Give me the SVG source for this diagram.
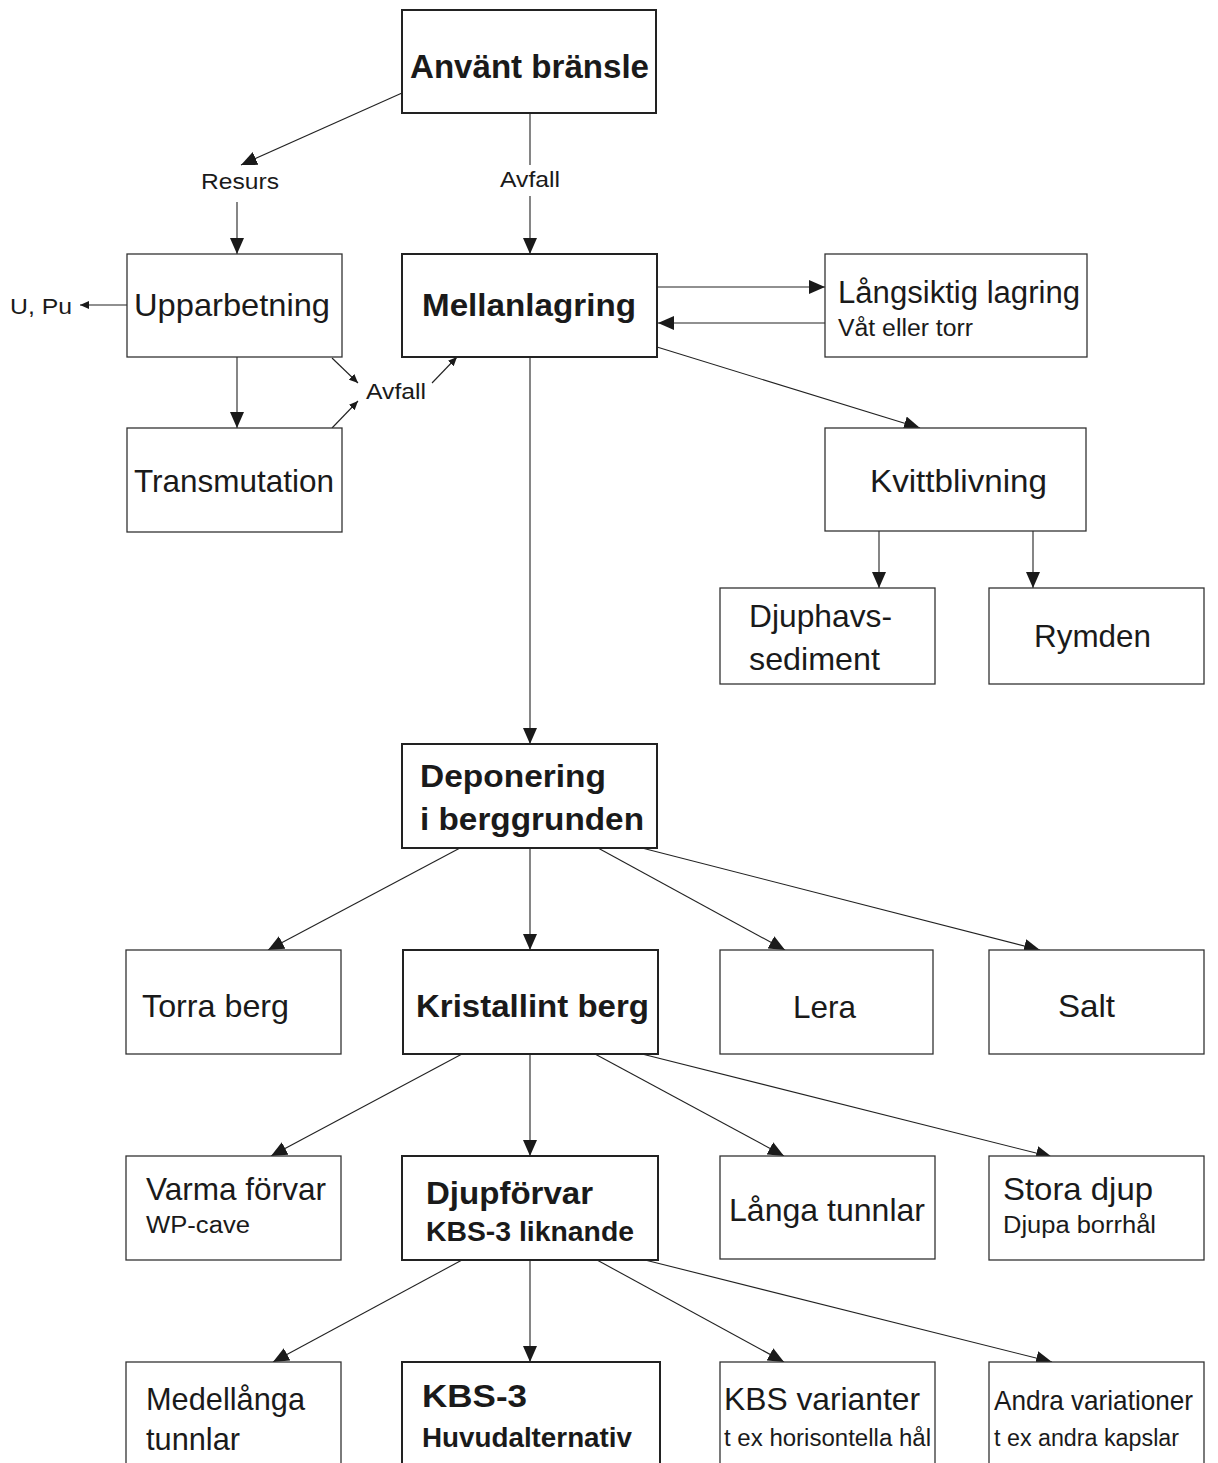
<svg xmlns="http://www.w3.org/2000/svg" width="1218" height="1463" viewBox="0 0 1218 1463">
<style>
.box{fill:#fff;stroke:#333;stroke-width:1.3}
.bbox{fill:#fff;stroke:#222;stroke-width:2}
.t{font-family:"Liberation Sans",Arial,sans-serif;fill:#1a1a1a;font-size:32px}
.b{font-weight:bold}
.s{font-size:23px}
.l{font-size:22px}
.c{stroke:#222;stroke-width:1.1;fill:none}
</style>
<defs>
<marker id="ah" markerUnits="userSpaceOnUse" markerWidth="16" markerHeight="14" refX="16" refY="7" orient="auto">
<path d="M0,0 L16,7 L0,14 z" fill="#1a1a1a"/>
</marker>
<marker id="as" markerUnits="userSpaceOnUse" markerWidth="9" markerHeight="8" refX="9" refY="4" orient="auto">
<path d="M0,0 L9,4 L0,8 z" fill="#1a1a1a"/>
</marker>
</defs>
<rect width="1218" height="1463" fill="#fff"/>
<g id="connectors">
<line class="c" x1="402" y1="93" x2="241" y2="165" marker-end="url(#ah)"/>
<line class="c" x1="237" y1="202" x2="237" y2="254" marker-end="url(#ah)"/>
<line class="c" x1="530" y1="113" x2="530" y2="165"/>
<line class="c" x1="530" y1="196" x2="530" y2="254" marker-end="url(#ah)"/>
<line class="c" x1="127" y1="305" x2="80" y2="305" marker-end="url(#as)"/>
<line class="c" x1="237" y1="357" x2="237" y2="428" marker-end="url(#ah)"/>
<line class="c" x1="332" y1="358" x2="358" y2="383" marker-end="url(#as)"/>
<line class="c" x1="332" y1="428" x2="358" y2="401" marker-end="url(#as)"/>
<line class="c" x1="432" y1="383" x2="457" y2="357" marker-end="url(#as)"/>
<line class="c" x1="657" y1="287" x2="825" y2="287" marker-end="url(#ah)"/>
<line class="c" x1="825" y1="323" x2="658" y2="323" marker-end="url(#ah)"/>
<line class="c" x1="657" y1="347" x2="920" y2="428" marker-end="url(#ah)"/>
<line class="c" x1="879" y1="531" x2="879" y2="588" marker-end="url(#ah)"/>
<line class="c" x1="1033" y1="531" x2="1033" y2="588" marker-end="url(#ah)"/>
<line class="c" x1="530" y1="357" x2="530" y2="744" marker-end="url(#ah)"/>
<line class="c" x1="460" y1="848" x2="268" y2="950" marker-end="url(#ah)"/>
<line class="c" x1="530" y1="848" x2="530" y2="950" marker-end="url(#ah)"/>
<line class="c" x1="598" y1="848" x2="785" y2="950" marker-end="url(#ah)"/>
<line class="c" x1="642" y1="848" x2="1040" y2="950" marker-end="url(#ah)"/>
<line class="c" x1="462" y1="1054" x2="271" y2="1156" marker-end="url(#ah)"/>
<line class="c" x1="530" y1="1054" x2="530" y2="1156" marker-end="url(#ah)"/>
<line class="c" x1="595" y1="1054" x2="784" y2="1156" marker-end="url(#ah)"/>
<line class="c" x1="642" y1="1054" x2="1052" y2="1157" marker-end="url(#ah)"/>
<line class="c" x1="462" y1="1260" x2="273" y2="1362" marker-end="url(#ah)"/>
<line class="c" x1="530" y1="1260" x2="530" y2="1362" marker-end="url(#ah)"/>
<line class="c" x1="597" y1="1260" x2="784" y2="1362" marker-end="url(#ah)"/>
<line class="c" x1="645" y1="1260" x2="1052" y2="1362" marker-end="url(#ah)"/>
</g>
<g id="labels">
<text class="t l" x="240" y="189" text-anchor="middle" textLength="78" lengthAdjust="spacingAndGlyphs">Resurs</text>
<text class="t l" x="530" y="187" text-anchor="middle" textLength="60" lengthAdjust="spacingAndGlyphs">Avfall</text>
<text class="t l" x="10" y="314" textLength="62" lengthAdjust="spacingAndGlyphs">U, Pu</text>
<text class="t l" x="366" y="399" textLength="60" lengthAdjust="spacingAndGlyphs">Avfall</text>
</g>
<g id="n-anvant"><rect class="bbox" x="402" y="10" width="254" height="103"/><text class="t b" x="410" y="78" style="font-size:33px" textLength="239" lengthAdjust="spacingAndGlyphs">Använt bränsle</text></g>
<g id="n-upparbetning"><rect class="box" x="127" y="254" width="215" height="103"/><text class="t" x="134" y="316" textLength="196" lengthAdjust="spacingAndGlyphs">Upparbetning</text></g>
<g id="n-mellanlagring"><rect class="bbox" x="402" y="254" width="255" height="103"/><text class="t b" x="422" y="316" textLength="214" lengthAdjust="spacingAndGlyphs">Mellanlagring</text></g>
<g id="n-langsiktig"><rect class="box" x="825" y="254" width="262" height="103"/><text class="t" x="838" y="303" style="font-size:31px" textLength="242" lengthAdjust="spacingAndGlyphs">Långsiktig lagring</text><text class="t s" x="838" y="336" textLength="135" lengthAdjust="spacingAndGlyphs">Våt eller torr</text></g>
<g id="n-transmutation"><rect class="box" x="127" y="428" width="215" height="104"/><text class="t" x="134" y="492" textLength="200" lengthAdjust="spacingAndGlyphs">Transmutation</text></g>
<g id="n-kvittblivning"><rect class="box" x="825" y="428" width="261" height="103"/><text class="t" x="870" y="492" textLength="177" lengthAdjust="spacingAndGlyphs">Kvittblivning</text></g>
<g id="n-djuphavs"><rect class="box" x="720" y="588" width="215" height="96"/><text class="t" x="749" y="627" textLength="143" lengthAdjust="spacingAndGlyphs">Djuphavs-</text><text class="t" x="749" y="670" textLength="131" lengthAdjust="spacingAndGlyphs">sediment</text></g>
<g id="n-rymden"><rect class="box" x="989" y="588" width="215" height="96"/><text class="t" x="1034" y="647" textLength="117" lengthAdjust="spacingAndGlyphs">Rymden</text></g>
<g id="n-deponering"><rect class="bbox" x="402" y="744" width="255" height="104"/><text class="t b" x="420" y="787" textLength="186" lengthAdjust="spacingAndGlyphs">Deponering</text><text class="t b" x="420" y="830" textLength="224" lengthAdjust="spacingAndGlyphs">i berggrunden</text></g>
<g id="n-torra"><rect class="box" x="126" y="950" width="215" height="104"/><text class="t" x="142" y="1017" textLength="147" lengthAdjust="spacingAndGlyphs">Torra berg</text></g>
<g id="n-kristallint"><rect class="bbox" x="403" y="950" width="255" height="104"/><text class="t b" x="416" y="1017" textLength="233" lengthAdjust="spacingAndGlyphs">Kristallint berg</text></g>
<g id="n-lera"><rect class="box" x="720" y="950" width="213" height="104"/><text class="t" x="793" y="1018" textLength="63" lengthAdjust="spacingAndGlyphs">Lera</text></g>
<g id="n-salt"><rect class="box" x="989" y="950" width="215" height="104"/><text class="t" x="1058" y="1017" textLength="57" lengthAdjust="spacingAndGlyphs">Salt</text></g>
<g id="n-varma"><rect class="box" x="126" y="1156" width="215" height="104"/><text class="t" x="146" y="1200" textLength="180" lengthAdjust="spacingAndGlyphs">Varma förvar</text><text class="t s" x="146" y="1233" textLength="104" lengthAdjust="spacingAndGlyphs">WP-cave</text></g>
<g id="n-djupforvar"><rect class="bbox" x="402" y="1156" width="256" height="104"/><text class="t b" x="426" y="1204" textLength="167" lengthAdjust="spacingAndGlyphs">Djupförvar</text><text class="t b" x="426" y="1241" style="font-size:27px" textLength="208" lengthAdjust="spacingAndGlyphs">KBS-3 liknande</text></g>
<g id="n-langa"><rect class="box" x="720" y="1156" width="215" height="103"/><text class="t" x="729" y="1221" textLength="196" lengthAdjust="spacingAndGlyphs">Långa tunnlar</text></g>
<g id="n-stora"><rect class="box" x="989" y="1156" width="215" height="104"/><text class="t" x="1003" y="1200" textLength="150" lengthAdjust="spacingAndGlyphs">Stora djup</text><text class="t s" x="1003" y="1233" textLength="153" lengthAdjust="spacingAndGlyphs">Djupa borrhål</text></g>
<g id="n-medellanga"><rect class="box" x="126" y="1362" width="215" height="110"/><text class="t" x="146" y="1410" textLength="159" lengthAdjust="spacingAndGlyphs">Medellånga</text><text class="t" x="146" y="1450" textLength="94" lengthAdjust="spacingAndGlyphs">tunnlar</text></g>
<g id="n-kbs3"><rect class="bbox" x="402" y="1362" width="258" height="110"/><text class="t b" x="422" y="1407" textLength="105" lengthAdjust="spacingAndGlyphs">KBS-3</text><text class="t b" x="422" y="1447" style="font-size:27px" textLength="210" lengthAdjust="spacingAndGlyphs">Huvudalternativ</text></g>
<g id="n-kbsvarianter"><rect class="box" x="720" y="1362" width="215" height="110"/><text class="t" x="724" y="1410" textLength="196" lengthAdjust="spacingAndGlyphs">KBS varianter</text><text class="t s" x="724" y="1446" textLength="207" lengthAdjust="spacingAndGlyphs">t ex horisontella hål</text></g>
<g id="n-andra"><rect class="box" x="989" y="1362" width="215" height="110"/><text class="t" x="994" y="1410" style="font-size:28px" textLength="199" lengthAdjust="spacingAndGlyphs">Andra variationer</text><text class="t s" x="994" y="1446" textLength="185" lengthAdjust="spacingAndGlyphs">t ex andra kapslar</text></g>
</svg>
